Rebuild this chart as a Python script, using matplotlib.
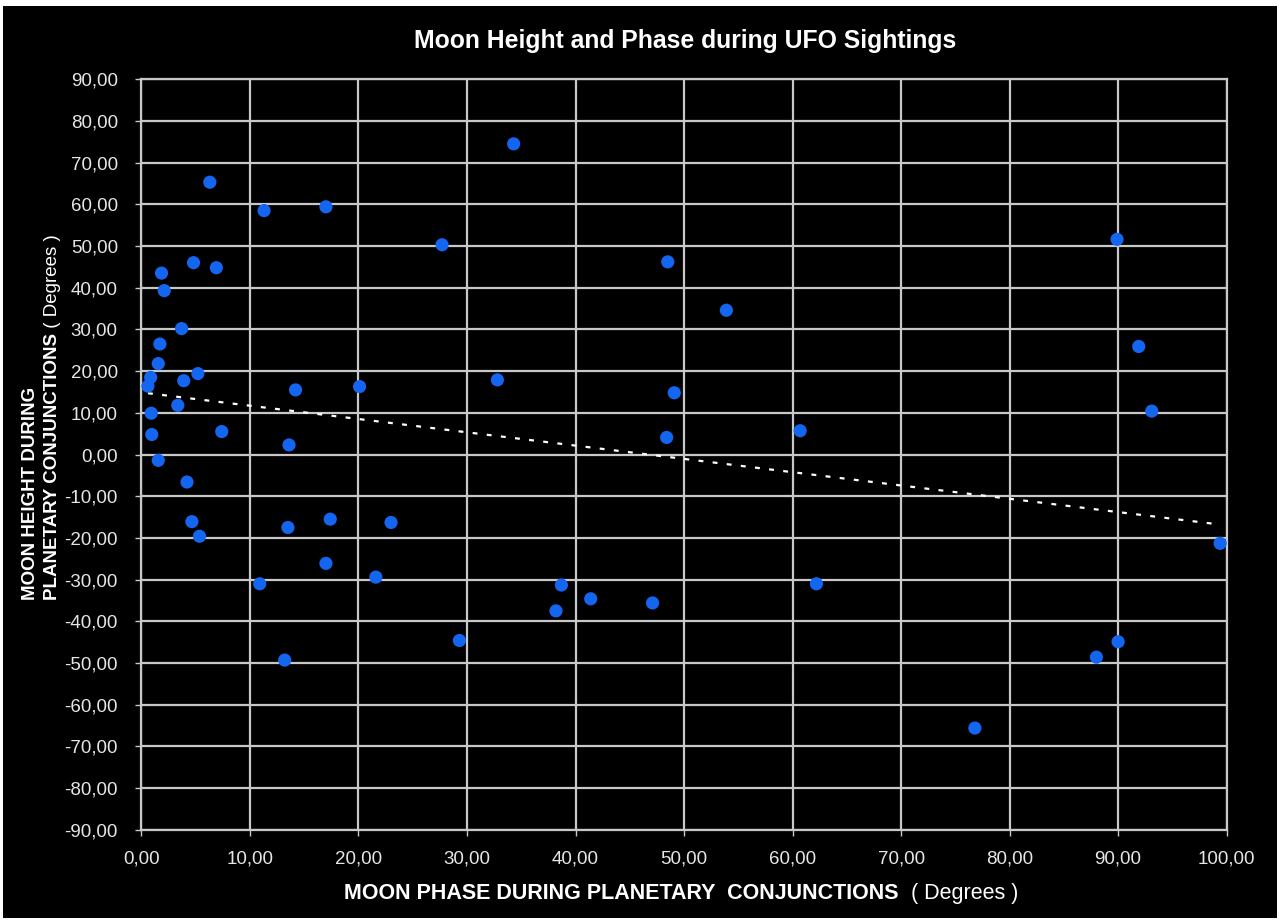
import matplotlib.pyplot as plt
from matplotlib.patches import Rectangle
from matplotlib.ticker import FuncFormatter, MultipleLocator

# Moon phase (x) and moon height (y), in degrees
moon_phase = [6.3, 11.3, 17.0, 34.3, 27.7, 4.8, 6.9, 1.85, 2.1, 3.7,
              1.7, 1.55, 0.85, 0.6, 3.9, 5.2, 14.2, 20.1, 32.8, 3.35,
              0.9, 0.95, 7.4, 13.6, 1.55, 4.2, 4.65, 13.5, 5.35, 17.4,
              23.0, 17.0, 10.9, 21.6, 29.3, 13.2, 38.7, 38.2, 41.4, 47.1,
              48.5, 53.9, 49.1, 48.4, 60.7, 62.2, 76.8, 89.9, 91.9, 93.1,
              99.4, 90.0, 88.0]
moon_height = [65.3, 58.5, 59.4, 74.5, 50.3, 46.0, 44.8, 43.5, 39.3, 30.2,
               26.5, 21.8, 18.5, 16.4, 17.7, 19.4, 15.5, 16.3, 17.9, 11.8,
               9.9, 4.8, 5.5, 2.3, -1.4, -6.6, -16.1, -17.5, -19.6, -15.5,
               -16.3, -26.1, -31.0, -29.4, -44.6, -49.3, -31.3, -37.5, -34.6, -35.6,
               46.2, 34.6, 14.8, 4.1, 5.7, -31.0, -65.6, 51.6, 25.9, 10.4,
               -21.3, -44.9, -48.6]

# linear trendline (Excel style), end points
trend_phase = [0.6, 99.4]
trend_height = [14.7, -16.8]

FONT = ['Liberation Sans Narrow', 'Liberation Sans', 'DejaVu Sans']
BOLD = ['Liberation Sans', 'DejaVu Sans']


def coma(v, pos):
    return f"{v:.2f}".replace('.', ',')


fig = plt.figure(figsize=(12.8, 9.21), dpi=100, facecolor='white')
# black chart area inside a thin white border
fig.patches.append(Rectangle((3 / 1280, 3 / 921), 1274 / 1280, 912 / 921,
                             transform=fig.transFigure, facecolor='black',
                             edgecolor='none', zorder=-10))

ax = fig.add_axes([0.1105, 0.099, 0.8478, 0.815])
ax.set_facecolor('black')

ax.plot(trend_phase, trend_height, color='white', linewidth=1.6,
        linestyle=(0, (2.2, 4.2)), zorder=2)
ax.scatter(moon_phase, moon_height, s=90, color='#1465f0', edgecolors='none', zorder=3)

ax.set_xlim(0, 100)
ax.set_ylim(-90, 90)
ax.xaxis.set_major_locator(MultipleLocator(10))
ax.yaxis.set_major_locator(MultipleLocator(10))
ax.xaxis.set_major_formatter(FuncFormatter(coma))
ax.yaxis.set_major_formatter(FuncFormatter(coma))

ax.grid(True, color='#c8c8c8', linewidth=1.6)
ax.set_axisbelow(True)
for s in ax.spines.values():
    s.set_color('#c8c8c8')
    s.set_linewidth(1.6)

ax.tick_params(colors='#c8c8c8', length=4, width=1)
ax.tick_params(axis='y', pad=13)
ax.tick_params(axis='x', pad=11)
for lab in ax.get_xticklabels() + ax.get_yticklabels():
    lab.set_family(FONT)
    lab.set_fontsize(13.5)
    lab.set_color('#e6e6e6')

fig.text(0.535, 0.956, 'Moon Height and Phase during UFO Sightings', color='white',
         fontsize=17.8, fontweight='bold', family=BOLD, ha='center', va='center')

# x axis title: bold part + normal "( Degrees )"
xt = fig.text(0.269, 0.030, 'MOON PHASE DURING PLANETARY  CONJUNCTIONS', color='white',
              fontsize=15.5, fontweight='bold', family=BOLD, ha='left', va='center')
ax.annotate('  ( Degrees )', xy=(1, 0.5), xycoords=xt, color='white', fontsize=15.5,
            family=BOLD, ha='left', va='center', annotation_clip=False)

# y axis title, two rotated lines
fig.text(0.0235, 0.349, 'MOON HEIGHT DURING', color='white', fontsize=13.5,
         fontweight='bold', family=BOLD, rotation=90, ha='center', va='bottom')
yt = fig.text(0.041, 0.349, 'PLANETARY CONJUNCTIONS', color='white', fontsize=13.5,
              fontweight='bold', family=BOLD, rotation=90, ha='center', va='bottom')
ax.annotate(' ( Degrees )', xy=(0.5, 1), xycoords=yt, color='white', fontsize=13.5,
            family=BOLD, rotation=90, ha='center', va='bottom', annotation_clip=False)

fig.savefig('out.png', dpi=100, facecolor=fig.get_facecolor())
